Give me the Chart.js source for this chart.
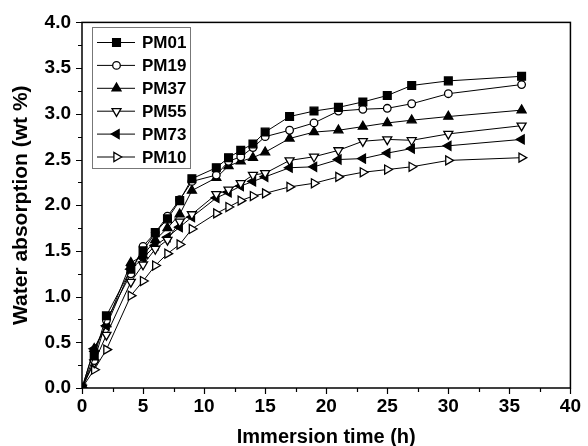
<!DOCTYPE html>
<html>
<head>
<meta charset="utf-8">
<script src="https://cdn.jsdelivr.net/npm/chart.js@4.4.1/dist/chart.umd.min.js"></script>
<style>
  html, body { margin: 0; padding: 0; background: #fff; }
  #wrap { width: 588px; height: 446px; }
</style>
</head>
<body>
<div id="wrap"><canvas id="grafica" width="588" height="446"></canvas></div>
<script>
// Tiempo de inmersión (h)
const tiempos = [0, 1, 2, 4, 5, 6, 7, 8, 9, 11, 12, 13, 14, 15, 17, 19, 21, 23, 25, 27, 30, 36];

// Absorción de agua (wt %) por muestra
const pm01 = [0, 0.35, 0.79, 1.30, 1.50, 1.70, 1.85, 2.05, 2.29, 2.41, 2.52, 2.60, 2.67, 2.80, 2.97, 3.03, 3.07, 3.13, 3.20, 3.31, 3.36, 3.41];
const pm19 = [0, 0.30, 0.74, 1.25, 1.55, 1.70, 1.88, 2.06, 2.26, 2.33, 2.48, 2.53, 2.63, 2.75, 2.82, 2.90, 3.03, 3.05, 3.06, 3.11, 3.22, 3.32];
const pm37 = [0, 0.43, 0.70, 1.37, 1.45, 1.62, 1.75, 1.90, 2.16, 2.30, 2.43, 2.48, 2.52, 2.58, 2.73, 2.80, 2.82, 2.86, 2.90, 2.93, 2.97, 3.04];
const pm55 = [0, 0.28, 0.58, 1.16, 1.35, 1.52, 1.62, 1.82, 1.90, 2.12, 2.17, 2.24, 2.33, 2.35, 2.49, 2.53, 2.60, 2.70, 2.72, 2.71, 2.78, 2.87];
const pm73 = [0, 0.43, 0.68, 1.30, 1.42, 1.56, 1.65, 1.76, 1.87, 2.08, 2.14, 2.21, 2.26, 2.31, 2.41, 2.42, 2.50, 2.51, 2.57, 2.62, 2.65, 2.72];
const pm10 = [0, 0.20, 0.42, 1.01, 1.17, 1.34, 1.47, 1.57, 1.74, 1.91, 1.98, 2.05, 2.10, 2.13, 2.20, 2.24, 2.31, 2.36, 2.39, 2.42, 2.49, 2.52];

const etiquetas = ['PM01', 'PM19', 'PM37', 'PM55', 'PM73', 'PM10'];
const series = [pm01, pm19, pm37, pm55, pm73, pm10];

// Marcadores: forma, rotación, relleno, radio
const marcadores = [
    { style: 'rect', rot: 0, fill: '#000', r: 5.5 },
    { style: 'circle', rot: 0, fill: '#fff', r: 3.8 },
    { style: 'triangle', rot: 0, fill: '#000', r: 5.2 },
    { style: 'triangle', rot: 180, fill: '#fff', r: 5.2 },
    { style: 'triangle', rot: -90, fill: '#000', r: 5.2 },
    { style: 'triangle', rot: 90, fill: '#fff', r: 5.2 }
];

const FUENTE = '"Liberation Sans", Arial, Helvetica, sans-serif';

function toPoints(valores) {
    return tiempos.map((t, i) => ({ x: t, y: valores[i] }));
}

const datasets = series.map((valores, i) => ({
    label: etiquetas[i],
    data: toPoints(valores),
    borderColor: '#000',
    borderWidth: 1,
    pointStyle: marcadores[i].style,
    rotation: marcadores[i].rot,
    pointRadius: marcadores[i].r,
    pointHoverRadius: marcadores[i].r,
    pointBackgroundColor: marcadores[i].fill,
    pointBorderColor: '#000',
    pointBorderWidth: 1.3,
    tension: 0
}));

// Marco, marcas de los ejes y leyenda dibujados a mano
const marcoPlugin = {
    id: 'marco',
    afterDraw(chart) {
        const ctx = chart.ctx;
        const area = chart.chartArea;
        const xs = chart.scales.x;
        const ys = chart.scales.y;
        ctx.save();
        ctx.strokeStyle = '#000';
        ctx.lineWidth = 1.5;
        ctx.strokeRect(area.left, area.top, area.right - area.left, area.bottom - area.top);

        ctx.lineWidth = 1.2;
        ctx.beginPath();
        for (let v = 0; v <= 40; v += 2.5) {
            const px = Math.round(xs.getPixelForValue(v)) + 0.5;
            const len = (v % 5 === 0) ? 6 : 4;
            ctx.moveTo(px, area.bottom);
            ctx.lineTo(px, area.bottom + len);
        }
        for (let v = 0; v <= 4.001; v += 0.25) {
            const py = Math.round(ys.getPixelForValue(v)) + 0.5;
            const len = (Math.abs(v * 2 - Math.round(v * 2)) < 0.01) ? 6 : 4;
            ctx.moveTo(area.left, py);
            ctx.lineTo(area.left - len, py);
        }
        ctx.stroke();

        // Leyenda
        const lx = 92, ly = 27, lw = 98, lh = 141, paso = 22.9;
        ctx.fillStyle = '#fff';
        ctx.fillRect(lx, ly, lw, lh);
        ctx.strokeStyle = '#777';
        ctx.lineWidth = 1;
        ctx.strokeRect(lx + 0.5, ly + 0.5, lw, lh);
        ctx.font = 'bold 17px ' + FUENTE;
        ctx.textBaseline = 'middle';
        ctx.textAlign = 'left';
        etiquetas.forEach((nombre, i) => {
            const y = ly + 15.5 + i * paso;
            ctx.strokeStyle = '#000';
            ctx.lineWidth = 1;
            ctx.beginPath();
            ctx.moveTo(97, y);
            ctx.lineTo(135, y);
            ctx.stroke();
            ctx.fillStyle = marcadores[i].fill;
            ctx.lineWidth = 1.3;
            Chart.helpers.drawPoint(ctx, {
                pointStyle: marcadores[i].style,
                rotation: marcadores[i].rot,
                radius: marcadores[i].r,
                borderWidth: 1.3
            }, 116.5, y);
            ctx.fillStyle = '#000';
            ctx.fillText(nombre, 142, y + 1);
        });
        ctx.restore();
    }
};

const ctx = document.getElementById('grafica').getContext('2d');
new Chart(ctx, {
    type: 'line',
    data: { datasets: datasets },
    options: {
        responsive: false,
        animation: false,
        layout: { padding: { top: 20, right: 12, left: 0, bottom: 0 } },
        plugins: {
            legend: { display: false },
            tooltip: { enabled: false }
        },
        scales: {
            x: {
                type: 'linear',
                min: 0,
                max: 40,
                afterFit: (scale) => { scale.height = 58; },
                grid: { display: false, drawTicks: false },
                border: { display: false },
                ticks: {
                    stepSize: 5,
                    padding: 7,
                    color: '#000',
                    font: { family: FUENTE, size: 19, weight: 'bold' }
                },
                title: {
                    display: true,
                    text: 'Immersion time (h)',
                    color: '#000',
                    padding: { top: 0, bottom: -3 },
                    font: { family: FUENTE, size: 20, weight: 'bold' }
                }
            },
            y: {
                min: 0,
                max: 4,
                afterFit: (scale) => { scale.width = 82; },
                grid: { display: false, drawTicks: false },
                border: { display: false },
                ticks: {
                    stepSize: 0.5,
                    padding: 11,
                    color: '#000',
                    font: { family: FUENTE, size: 19, weight: 'bold' },
                    callback: (v) => v.toFixed(1)
                },
                title: {
                    display: true,
                    text: 'Water absorption (wt %)',
                    color: '#000',
                    padding: { top: 9, bottom: 0 },
                    font: { family: FUENTE, size: 21, weight: 'bold' }
                }
            }
        }
    },
    plugins: [marcoPlugin]
});
</script>
</body>
</html>
